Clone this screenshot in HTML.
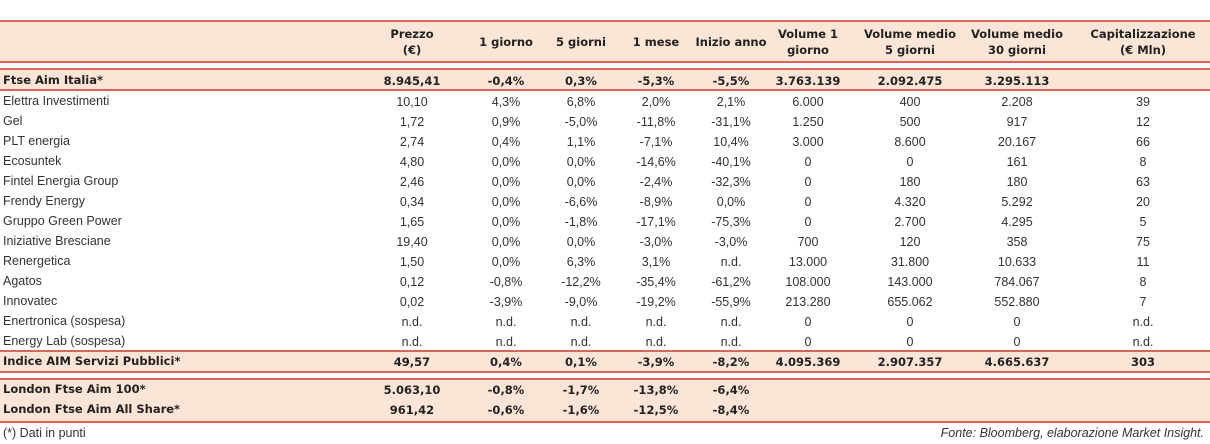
<!DOCTYPE html>
<html><head><meta charset="utf-8">
<style>
html,body{margin:0;padding:0;background:#fff;}
#root{position:relative;width:1210px;height:444px;overflow:hidden;font-family:"DejaVu Sans","Liberation Sans",sans-serif;color:#222;}
.band{position:absolute;left:0;width:1210px;background:#fce4d6;}
.rule{position:absolute;left:0;width:1210px;height:2px;background:#d9665a;}
.cell{position:absolute;white-space:nowrap;transform:translateX(-50%);text-align:center;font-size:12px;line-height:14px;}
.name{position:absolute;left:3px;white-space:nowrap;font-size:12.5px;}
.light{font-family:"Liberation Sans",sans-serif;color:#333;font-size:12.5px;}
.bold{font-weight:bold;font-size:11.5px;}
.hdr{font-weight:bold;font-size:11.5px;line-height:16px;}
.note{position:absolute;font-family:"Liberation Sans",sans-serif;font-size:12.5px;color:#333;}
</style></head>
<body>
<div id="root">
  <div class="band" style="top:22px;height:40px"></div>
  <div class="band" style="top:70px;height:20px"></div>
  <div class="band" style="top:352px;height:20px"></div>
  <div class="band" style="top:380px;height:42px"></div>
  <div class="rule" style="top:20px"></div>
  <div class="rule" style="top:61px"></div>
  <div class="rule" style="top:68px"></div>
  <div class="rule" style="top:89px"></div>
  <div class="rule" style="top:350px"></div>
  <div class="rule" style="top:371px"></div>
  <div class="rule" style="top:378px"></div>
  <div class="rule" style="top:421px"></div>
  <div class="note" style="left:3px;top:426px">(*) Dati in punti</div>
  <div class="note" style="right:6px;top:426px;font-style:italic">Fonte: Bloomberg, elaborazione Market Insight.</div>
</div>
<script>
const headers = [["Prezzo","(€)"],["1 giorno"],["5 giorni"],["1 mese"],["Inizio anno"],["Volume 1","giorno"],["Volume medio","5 giorni"],["Volume medio","30 giorni"],["Capitalizzazione","(€ Mln)"]];
const ftseAim = ["Ftse Aim Italia*","8.945,41","-0,4%","0,3%","-5,3%","-5,5%","3.763.139","2.092.475","3.295.113",""];
const stocks = [
["Elettra Investimenti","10,10","4,3%","6,8%","2,0%","2,1%","6.000","400","2.208","39"],
["Gel","1,72","0,9%","-5,0%","-11,8%","-31,1%","1.250","500","917","12"],
["PLT energia","2,74","0,4%","1,1%","-7,1%","10,4%","3.000","8.600","20.167","66"],
["Ecosuntek","4,80","0,0%","0,0%","-14,6%","-40,1%","0","0","161","8"],
["Fintel Energia Group","2,46","0,0%","0,0%","-2,4%","-32,3%","0","180","180","63"],
["Frendy Energy","0,34","0,0%","-6,6%","-8,9%","0,0%","0","4.320","5.292","20"],
["Gruppo Green Power","1,65","0,0%","-1,8%","-17,1%","-75,3%","0","2.700","4.295","5"],
["Iniziative Bresciane","19,40","0,0%","0,0%","-3,0%","-3,0%","700","120","358","75"],
["Renergetica","1,50","0,0%","6,3%","3,1%","n.d.","13.000","31.800","10.633","11"],
["Agatos","0,12","-0,8%","-12,2%","-35,4%","-61,2%","108.000","143.000","784.067","8"],
["Innovatec","0,02","-3,9%","-9,0%","-19,2%","-55,9%","213.280","655.062","552.880","7"],
["Enertronica (sospesa)","n.d.","n.d.","n.d.","n.d.","n.d.","0","0","0","n.d."],
["Energy Lab (sospesa)","n.d.","n.d.","n.d.","n.d.","n.d.","0","0","0","n.d."]
];
const indice = ["Indice AIM Servizi Pubblici*","49,57","0,4%","0,1%","-3,9%","-8,2%","4.095.369","2.907.357","4.665.637","303"];
const london = [
["London Ftse Aim 100*","5.063,10","-0,8%","-1,7%","-13,8%","-6,4%","","","",""],
["London Ftse Aim All Share*","961,42","-0,6%","-1,6%","-12,5%","-8,4%","","","",""]
];
const colX = [412,506,581,656,731,808,910,1017,1143];
const root = document.getElementById('root');

headers.forEach((h,i)=>{
  const d = document.createElement('div');
  
  
  d.className = 'cell hdr';
  d.innerHTML = h.join('<br>');
  d.style.left = colX[i]+'px';
  d.style.top = (h.length===2 ? 26 : 34)+'px';
  root.appendChild(d);
});

function addRow(row, centerY, style){
  const n = document.createElement('div');
  
  
  n.className = 'name ' + style;
  n.textContent = row[0];
  n.style.top = (centerY-7)+'px';
  root.appendChild(n);
  for(let i=1;i<row.length;i++){
    if(!row[i]) continue;
    const c = document.createElement('div');
    
    
    c.className = 'cell ' + style;
    c.textContent = row[i];
    c.style.left = colX[i-1]+'px';
    c.style.top = (centerY-6)+'px';
    root.appendChild(c);
  }
}
addRow(ftseAim, 80, 'bold');
stocks.forEach((r,k)=>addRow(r, 101+k*20, 'light'));
addRow(indice, 361, 'bold');
london.forEach((r,k)=>addRow(r, 389+k*20, 'bold'));
</script>
</body></html>
